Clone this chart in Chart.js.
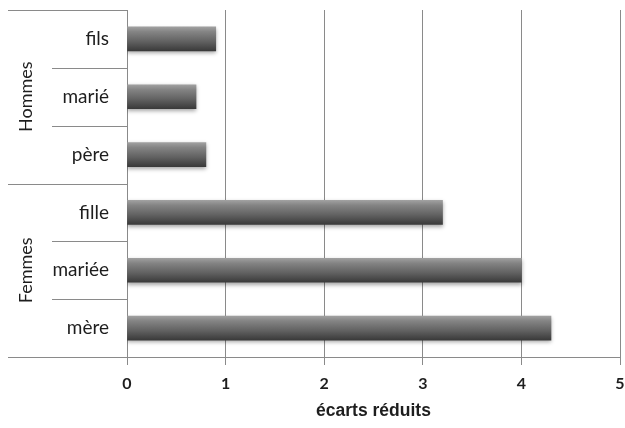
<!DOCTYPE html>
<html>
<head>
<meta charset="utf-8">
<script src="https://cdn.jsdelivr.net/npm/chart.js@4"></script>
<style>
  html, body { margin: 0; padding: 0; background: #fff; }
  #wrap { width: 625px; height: 428px; }
</style>
</head>
<body>
<div id="wrap"><canvas id="chart" width="625" height="428"></canvas></div>
<script>
const groups = ['Hommes', 'Femmes'];
const groupSizes = [3, 3];
const categories = ['fils', 'marié', 'père', 'fille', 'mariée', 'mère'];
const values = [0.9, 0.7, 0.8, 3.2, 4.0, 4.3];
const xMin = 0, xMax = 5, xStep = 1;

const lineColor = '#8a8a8a';
const textColor = '#1e1e1e';

function barFill(c) {
  const chart = c.chart;
  const y = chart.scales.y;
  if (!chart.chartArea || !y) return '#666';
  const mid = y.getPixelForValue(c.dataIndex);
  const g = chart.ctx.createLinearGradient(0, mid - 12, 0, mid + 12);
  g.addColorStop(0, '#a0a0a0');
  g.addColorStop(0.2, '#848484');
  g.addColorStop(0.6, '#626262');
  g.addColorStop(1, '#3a3a3a');
  return g;
}

// the scales add room for their labels; the reference plot fills the frame
function noPad(scale) {
  scale.paddingTop = scale.paddingBottom = 0;
  scale.paddingLeft = scale.paddingRight = 0;
}

// shadow under the bars + group labels and separators at the left
const decor = {
  id: 'decor',
  beforeDatasetsDraw(chart) {
    const ctx = chart.ctx;
    ctx.save();
    ctx.shadowColor = 'rgba(0,0,0,0.35)';
    ctx.shadowBlur = 4;
    ctx.shadowOffsetY = 2;
  },
  afterDatasetsDraw(chart) {
    chart.ctx.restore();
  },
  afterDraw(chart) {
    const ctx = chart.ctx;
    const area = chart.chartArea;
    const n = categories.length;
    const step = (area.bottom - area.top) / n;
    ctx.save();
    ctx.strokeStyle = lineColor;
    ctx.lineWidth = 1;
    const starts = [0];
    groupSizes.forEach((s, i) => starts.push(starts[i] + s));
    for (let k = 0; k <= n; k++) {
      const yy = Math.round(area.top + k * step) + 0.5;
      const x0 = starts.includes(k) ? 8 : 52;
      ctx.beginPath();
      ctx.moveTo(x0, yy);
      ctx.lineTo(area.left, yy);
      ctx.stroke();
    }
    ctx.fillStyle = textColor;
    ctx.font = '18px Lato';
    ctx.textAlign = 'center';
    ctx.textBaseline = 'middle';
    groups.forEach((g, i) => {
      const cy = area.top + (starts[i] + groupSizes[i] / 2) * step;
      ctx.save();
      ctx.translate(26, cy);
      ctx.rotate(-Math.PI / 2);
      ctx.fillText(g, 0, 0);
      ctx.restore();
    });
    ctx.restore();
  }
};

new Chart(document.getElementById('chart'), {
  type: 'bar',
  data: {
    labels: categories,
    datasets: [{
      data: values,
      backgroundColor: barFill,
      borderWidth: 0,
      barThickness: 24
    }]
  },
  options: {
    indexAxis: 'y',
    responsive: false,
    animation: false,
    layout: { padding: { top: 10, right: 5, left: 0, bottom: 0 } },
    plugins: { legend: { display: false }, tooltip: { enabled: false } },
    scales: {
      x: {
        min: xMin,
        max: xMax,
        ticks: { stepSize: xStep, color: textColor, font: { family: 'Lato', size: 16, weight: 'bold' }, padding: 9 },
        grid: { color: lineColor, lineWidth: 1, tickLength: 8 },
        border: { display: true, color: lineColor },
        title: {
          display: true,
          text: 'écarts réduits',
          color: textColor,
          font: { family: 'Liberation Sans', size: 17.5, weight: 'bold' },
          padding: { top: 0, bottom: 6 }
        },
        afterFit(scale) { scale.height = 71; noPad(scale); }
      },
      y: {
        ticks: { color: textColor, font: { family: 'Lato', size: 19 }, padding: 18 },
        grid: { display: false, drawTicks: false },
        border: { display: true, color: lineColor },
        afterFit(scale) { scale.width = 127; noPad(scale); }
      }
    }
  },
  plugins: [decor]
});
</script>
</body>
</html>
